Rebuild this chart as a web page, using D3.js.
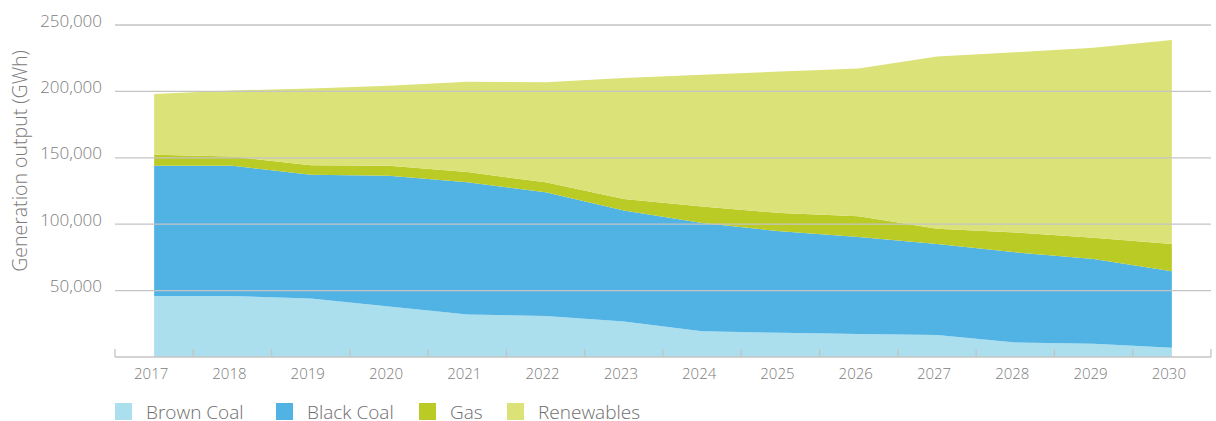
<!DOCTYPE html>
<html>
<head>
<meta charset="utf-8">
<script src="https://cdn.jsdelivr.net/npm/d3@7"></script>
<style>
  body { margin: 0; background: #fff; }
  text { font-family: 'Open Sans', sans-serif; font-weight: 300; }
</style>
</head>
<body>
<div class="canvas"></div>
<script>
const years = [2017, 2018, 2019, 2020, 2021, 2022, 2023, 2024, 2025, 2026, 2027, 2028, 2029, 2030];
const brownCoal = [46000, 46000, 44000, 38000, 32000, 30900, 26800, 19300, 18300, 17300, 16600, 11000, 10000, 7000];
const blackCoal = [98000, 98000, 93300, 98500, 99500, 93100, 83600, 81600, 76300, 73100, 68500, 67800, 63800, 57500];
const gas = [8300, 7000, 7000, 7500, 7800, 7500, 8600, 12500, 13800, 15500, 11500, 15000, 16000, 20600];
const renewables = [45700, 49700, 57900, 60300, 68000, 75300, 91100, 99200, 106600, 111400, 129700, 135600, 143100, 153600];
const seriesNames = ['Brown Coal', 'Black Coal', 'Gas', 'Renewables'];
const seriesColors = ['#abdfee', '#51b3e4', '#bbcb25', '#dbe277'];
const yTicks = [50000, 100000, 150000, 200000, 250000];

const width = 1216, height = 421;
const margin = { top: 25, right: 5, bottom: 64, left: 115 };

const svg = d3.select('.canvas')
  .append('svg')
  .attr('width', width)
  .attr('height', height)

// build rows for the stack
const rows = years.map((y, i) => ({
  year: y,
  'Brown Coal': brownCoal[i],
  'Black Coal': blackCoal[i],
  'Gas': gas[i],
  'Renewables': renewables[i]
}));

const x = d3.scaleBand()
  .domain(years)
  .range([margin.left, width - margin.right])
  .padding(0)

const y = d3.scaleLinear()
  .domain([0, 250000])
  .range([height - margin.bottom, margin.top])

const color = d3.scaleOrdinal(seriesNames, seriesColors);

const stacked = d3.stack().keys(seriesNames)(rows);

const area = d3.area()
  .x(d => x(d.data.year) + x.bandwidth() / 2)
  .y0(d => y(d[0]))
  .y1(d => y(d[1]))

svg.append('g')
  .selectAll('path')
  .data(stacked)
  .enter()
  .append('path')
  .attr('fill', d => color(d.key))
  .attr('d', area)

// gridlines sit on top of the areas
svg.append('g')
  .selectAll('line')
  .data(yTicks)
  .enter()
  .append('line')
  .attr('x1', margin.left)
  .attr('x2', width - margin.right)
  .attr('y1', d => y(d))
  .attr('y2', d => y(d))
  .attr('stroke', '#c4c4c4')
  .attr('stroke-width', 1.3)

// y tick labels
svg.append('g')
  .selectAll('text')
  .data(yTicks)
  .enter()
  .append('text')
  .attr('x', margin.left - 13)
  .attr('y', d => y(d) + 1.5)
  .attr('text-anchor', 'end')
  .attr('font-size', 17)
  .attr('fill', '#7c7c7c')
  .text(d3.format(','))

// x axis line with ticks at band edges pointing up
const xAxis = svg.append('g')
  .attr('transform', `translate(0, ${y(0)})`)

xAxis.append('line')
  .attr('x1', margin.left)
  .attr('x2', width - margin.right)
  .attr('stroke', '#c4c4c4')
  .attr('stroke-width', 1.5)

const edges = years.map(d => x(d)).concat([width - margin.right]);
xAxis.selectAll('.tick')
  .data(edges)
  .enter()
  .append('line')
  .attr('class', 'tick')
  .attr('x1', d => d)
  .attr('x2', d => d)
  .attr('y1', 0)
  .attr('y2', -8)
  .attr('stroke', '#c4c4c4')
  .attr('stroke-width', 1.3)

xAxis.selectAll('text')
  .data(years)
  .enter()
  .append('text')
  .attr('x', d => x(d) + x.bandwidth() / 2 - 3)
  .attr('y', 22)
  .attr('text-anchor', 'middle')
  .attr('font-size', 15)
  .attr('fill', '#7c7c7c')
  .text(d => d)

// y axis title
svg.append('text')
  .attr('transform', 'translate(27, 161) rotate(-90)')
  .attr('text-anchor', 'middle')
  .attr('font-size', 19.5)
  .attr('fill', '#7c7c7c')
  .text('Generation output (GWh)')

// legend
const legendX = [115, 276, 419, 507];
const legend = svg.append('g')
  .selectAll('g')
  .data(seriesNames)
  .enter()
  .append('g')
  .attr('transform', (d, i) => `translate(${legendX[i]}, 403)`)

legend.append('rect')
  .attr('width', 17)
  .attr('height', 17)
  .attr('fill', d => color(d))

legend.append('text')
  .attr('x', 31)
  .attr('y', 16)
  .attr('font-size', 19)
  .attr('fill', '#6e6e6e')
  .text(d => d)
</script>
</body>
</html>
